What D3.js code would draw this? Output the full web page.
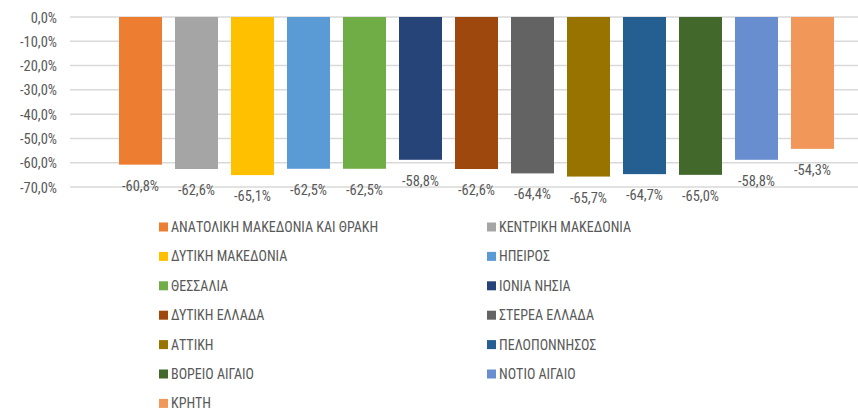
<!DOCTYPE html>
<html><head><meta charset="utf-8">
<script src="https://cdn.jsdelivr.net/npm/d3@7"></script>
<style>
html,body{margin:0;padding:0;background:#fff;}
text{font-family:"Liberation Sans Narrow","Arial Narrow","Roboto Condensed","Liberation Sans",sans-serif;fill:#595959;}
</style></head>
<body>
<svg id="chart" width="858" height="410"></svg>
<script>
const categories = ["ΑΝΑΤΟΛΙΚΗ ΜΑΚΕΔΟΝΙΑ ΚΑΙ ΘΡΑΚΗ","ΚΕΝΤΡΙΚΗ ΜΑΚΕΔΟΝΙΑ","ΔΥΤΙΚΗ ΜΑΚΕΔΟΝΙΑ","ΗΠΕΙΡΟΣ","ΘΕΣΣΑΛΙΑ","ΙΟΝΙΑ ΝΗΣΙΑ","ΔΥΤΙΚΗ ΕΛΛΑΔΑ","ΣΤΕΡΕΑ ΕΛΛΑΔΑ","ΑΤΤΙΚΗ","ΠΕΛΟΠΟΝΝΗΣΟΣ","ΒΟΡΕΙΟ ΑΙΓΑΙΟ","ΝΟΤΙΟ ΑΙΓΑΙΟ","ΚΡΗΤΗ"];
const values = [-60.8,-62.6,-65.1,-62.5,-62.5,-58.8,-62.6,-64.4,-65.7,-64.7,-65.0,-58.8,-54.3];
const colors = ["#ED7D31","#A5A5A5","#FFC000","#5B9BD5","#70AD47","#264478","#9E480E","#636363","#997300","#255E91","#43682B","#698ED0","#F1975A"];
const yTicks = [0,-10,-20,-30,-40,-50,-60,-70];

const svg = d3.select("#chart");
const fmt = v => d3.format(".1f")(v).replace("−","-").replace(".",",") + "%";

const y = d3.scaleLinear().domain([0,-70]).range([17,187]);
const x = d3.scaleBand().domain(categories).range([112.5,840.5]).paddingInner(13/56).paddingOuter(13/112);

// gridlines
svg.append("g").selectAll("line").data(yTicks).join("line")
  .attr("x1",70).attr("x2",858)
  .attr("y1",d=>y(d)).attr("y2",d=>y(d))
  .attr("stroke","#d9d9d9").attr("stroke-width",1.5);

// y axis labels
const yAxis = d3.axisLeft(y).tickValues(yTicks).tickFormat(fmt).tickSize(0).tickPadding(0);
const ya = svg.append("g").attr("transform","translate(57,0)").call(yAxis);
ya.select(".domain").remove();
ya.selectAll("text").attr("font-size",14.5).attr("fill","#595959").attr("font-family",null).attr("dy","0.35em");

// bars
svg.append("g").selectAll("rect").data(values).join("rect")
  .attr("x",(d,i)=>x(categories[i]))
  .attr("width",x.bandwidth())
  .attr("y",y(0))
  .attr("height",d=>y(d)-y(0))
  .attr("fill",(d,i)=>colors[i]);

// labels
svg.append("g").selectAll("text").data(values).join("text")
  .attr("x",(d,i)=>x(categories[i])+x.bandwidth()/2)
  .attr("y",d=>y(d)+21)
  .attr("dy","0.35em")
  .attr("text-anchor","middle")
  .attr("font-size",14.5)
  .text(d=>fmt(d));

// legend
const leg = svg.append("g");
const items = leg.selectAll("g").data(categories).join("g")
  .attr("transform",(d,i)=>`translate(${i%2===0?159:487},${227+Math.floor(i/2)*29.4})`);
items.append("rect").attr("x",0).attr("y",-4.5).attr("width",9).attr("height",9)
  .attr("fill",(d,i)=>colors[i]);
items.append("text").attr("x",12).attr("dy","0.35em").attr("font-size",14).text(d=>d);
</script>
</body></html>
